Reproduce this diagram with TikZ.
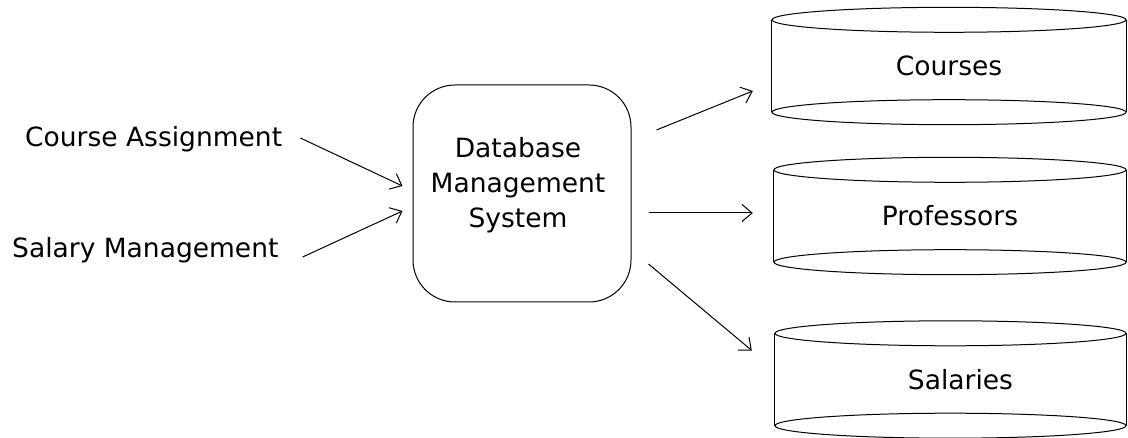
\documentclass[tikz,border=0pt]{standalone}
\usepackage{fontspec}
\setmainfont{DejaVu Sans}
\usetikzlibrary{arrows.meta,calc}
\tikzset{
  lbl/.style={inner sep=0pt, font=\fontsize{26.5pt}{35pt}\selectfont},
  arr/.style={line width=1pt, -{Straight Barb[length=10pt,width=17pt,line width=1pt]}},
  cyl/.style={inner sep=0pt, minimum width=#1, minimum height=92pt, font=\fontsize{26.5pt}{35pt}\selectfont},
  procbox/.style={draw, line width=1pt, rounded corners=42pt, minimum width=218pt, minimum height=217pt, inner sep=0pt},
}
\newcommand{\cylshape}[2]{%
  \draw[line width=1pt] (#1.north west) -- (#1.south west);
  \draw[line width=1pt] (#1.north east) -- (#1.south east);
  \draw[line width=1pt] (#1.north) ellipse [x radius=#2, y radius=12.5pt];
  \draw[line width=1pt] (#1.south) ellipse [x radius=#2, y radius=12.5pt];
}
\begin{document}
\begin{tikzpicture}[x=1pt,y=-1pt]
\useasboundingbox (0,0) rectangle (1128,438);
% left labels
\node[lbl, anchor=base west] (ca) at (25,147) {Course Assignment};
\node[lbl, anchor=base west] (sm) at (12,258) {Salary Management};
% central box
\node[procbox] (dbms) at (522,193.5) {};
\node[lbl, align=center] (dbmstext) at (518,185) {Database\\Management\\System};
% cylinders
\node[cyl=354pt] (courses) at (949,66) {Courses};
\node[cyl=352pt] (professors) at (950,216) {Professors};
\node[cyl=351pt, label={[lbl, xshift=10pt]center:Salaries}] (salaries) at (950.5,379.5) {};
\cylshape{courses}{177pt}
\cylshape{professors}{176pt}
\cylshape{salaries}{175.5pt}
% connectors
\draw[arr] ($(ca.base east)+(18,-9)$) -- ($(dbms.west)+(-10,-7.5)$);
\draw[arr] ($(sm.base east)+(24,-1)$) -- ($(dbms.west)+(-10,17.5)$);
\draw[arr] ($(dbms.east)+(25,-63.5)$) -- ($(courses.west)+(-19,25)$);
\draw[arr] ($(dbms.east)+(17,19.5)$) -- ($(professors.west)+(-21,-3)$);
\draw[arr] ($(dbms.east)+(17,70.5)$) -- ($(salaries.west)+(-23,-29)$);
\end{tikzpicture}
\end{document}
